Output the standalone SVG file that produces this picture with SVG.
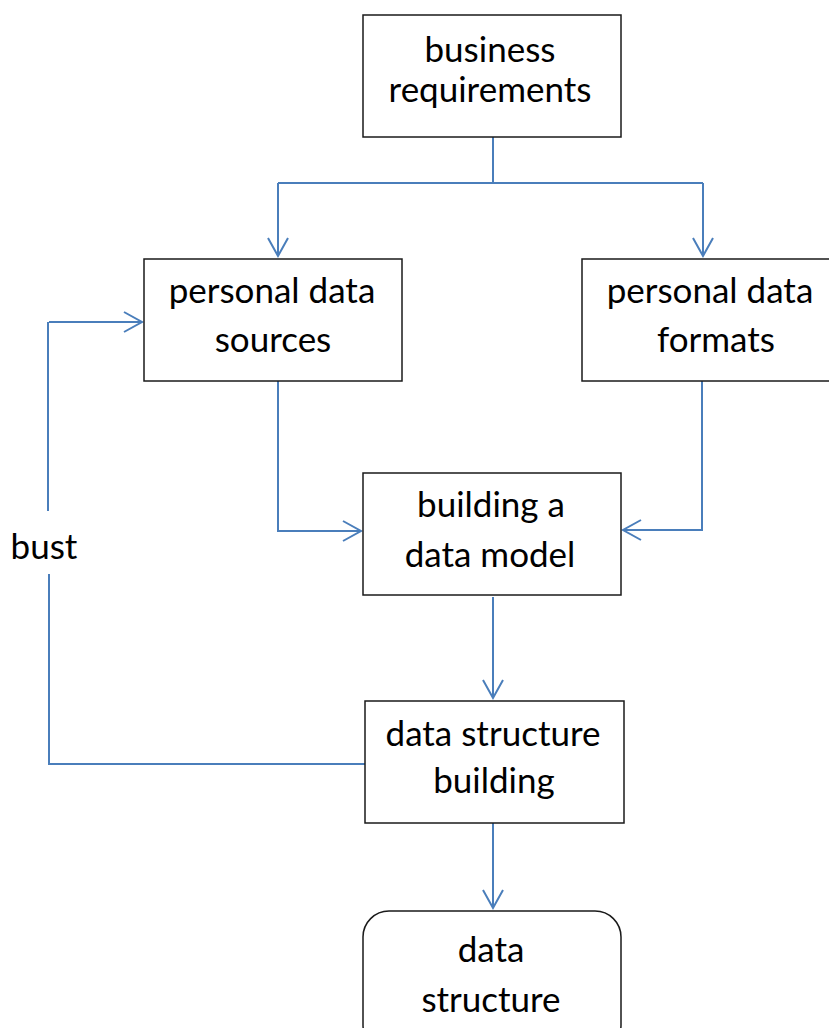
<svg xmlns="http://www.w3.org/2000/svg" width="829" height="1028" viewBox="0 0 829 1028">
  <style>
    .box { fill: #ffffff; stroke: #1a1a1a; stroke-width: 1.5; }
    .lbl { font-family: Lato, "Liberation Sans", sans-serif; font-size: 35px; fill: #000000; text-anchor: middle; }
    .link { fill: none; stroke: #4a7ebb; stroke-width: 2; }
  </style>
  <defs>
    <marker id="arrow" markerUnits="userSpaceOnUse" markerWidth="24" markerHeight="24" viewBox="-20 -12 22 24" refX="0" refY="0" orient="auto">
      <path d="M-18,-10 L0,0 L-18,10" fill="none" stroke="#4a7ebb" stroke-width="2"/>
    </marker>
  </defs>

  <!-- connectors -->
  <g id="connectors">
    <path class="link" d="M493,137 V183"/>
    <path class="link" d="M278,183 H703"/>
    <path class="link" d="M278,183 V256" marker-end="url(#arrow)"/>
    <path class="link" d="M703,183 V256" marker-end="url(#arrow)"/>
    <path class="link" d="M278,381 V531 H361" marker-end="url(#arrow)"/>
    <path class="link" d="M702,378 V530 H623" marker-end="url(#arrow)"/>
    <path class="link" d="M493,597 V698" marker-end="url(#arrow)"/>
    <path class="link" d="M493,823 V908" marker-end="url(#arrow)"/>
    <!-- loop back: interrupted by the label -->
    <path class="link" d="M365,764 H49 V574"/>
    <path class="link" d="M48,511 V322"/>
    <path class="link" d="M49,322 H142" marker-end="url(#arrow)"/>
    <text class="lbl" x="44" y="559">bust</text>
  </g>

  <g id="business-requirements">
    <rect class="box" x="363" y="15" width="258" height="122"/>
    <text class="lbl" x="490" y="62">business</text>
    <text class="lbl" x="490" y="102">requirements</text>
  </g>

  <g id="personal-data-sources">
    <rect class="box" x="144" y="259" width="258" height="122"/>
    <text class="lbl" x="272" y="303">personal data</text>
    <text class="lbl" x="273" y="352">sources</text>
  </g>

  <g id="personal-data-formats">
    <rect class="box" x="582" y="259" width="258" height="122"/>
    <text class="lbl" x="710" y="303">personal data</text>
    <text class="lbl" x="716" y="352">formats</text>
  </g>

  <g id="building-data-model">
    <rect class="box" x="363" y="473" width="258" height="122"/>
    <text class="lbl" x="491" y="517">building a</text>
    <text class="lbl" x="490" y="567">data model</text>
  </g>

  <g id="data-structure-building">
    <rect class="box" x="365" y="701" width="259" height="122"/>
    <text class="lbl" x="493" y="746">data structure</text>
    <text class="lbl" x="494" y="793">building</text>
  </g>

  <g id="data-structure">
    <rect class="box" x="363" y="911" width="258" height="140" rx="26" ry="26"/>
    <text class="lbl" x="491" y="962">data</text>
    <text class="lbl" x="491" y="1012">structure</text>
  </g>
</svg>
